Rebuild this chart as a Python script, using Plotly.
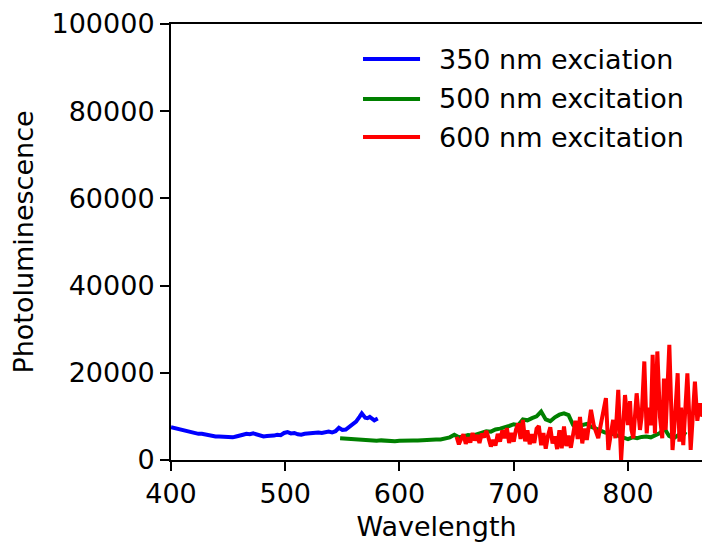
import plotly.graph_objects as go

# ---- data ----
series_names = ["350 nm exciation", "500 nm excitation", "600 nm excitation"]
series_colors = ["#0000ff", "#008000", "#ff0000"]

blue_x = [400, 403, 406, 409, 412, 415, 418, 421, 424, 427, 430, 433, 436, 439, 442, 445, 448,
          451, 454, 457, 460, 463, 466, 469, 472, 475, 478, 481, 484, 487, 490, 493, 496, 499,
          502, 505, 508, 511, 514, 517, 520, 523, 526, 529, 532, 535, 538, 541, 544, 547, 550,
          553, 556, 559, 562, 565, 567, 570, 572, 574, 576, 578, 581]
blue_y = [7500, 7300, 7100, 6900, 6700, 6400, 6300, 6200, 6000, 6000, 5800, 5700, 5600, 5400,
          5400, 5300, 5200, 5300, 5200, 5400, 5500, 5800, 6000, 5900, 6100, 5900, 5600, 5400,
          5500, 5500, 5600, 5800, 5700, 6200, 6400, 6100, 6200, 5900, 5800, 6000, 6100, 6000,
          6200, 6300, 6200, 6400, 6500, 6300, 6600, 7400, 6900, 7000, 7700, 8200, 8800, 9900,
          10700, 9700, 9600, 9900, 9500, 9100, 9500]

green_x = [548, 552, 556, 560, 564, 568, 572, 576, 580, 584, 588, 592, 596, 600, 604, 608, 612,
           616, 620, 624, 628, 632, 636, 640, 644, 648, 652, 656, 660, 664, 668, 672, 676, 680,
           684, 688, 692, 696, 700, 704, 708, 712, 716, 720, 724, 728, 732, 736, 740, 744, 748,
           752, 756, 760, 764, 768, 772, 776, 780, 784, 788, 792, 796, 800, 804, 808, 812, 816,
           820, 824, 828, 832, 836, 840, 844, 848, 851]
green_y = [5000, 4900, 4900, 4800, 4700, 4600, 4500, 4500, 4400, 4500, 4400, 4400, 4300, 4400,
           4500, 4400, 4500, 4500, 4600, 4500, 4600, 4700, 4700, 4900, 5200, 5800, 5200, 5400,
           5700, 5600, 6000, 6300, 6600, 6500, 7000, 7200, 7400, 7800, 8200, 8000, 9300, 9100,
           9600, 10000, 11100, 9300, 8900, 9800, 10400, 10700, 10300, 8000, 7000, 8000, 8300,
           7600, 7200, 6800, 6300, 6200, 5800, 5600, 5000, 4800, 5200, 5000, 5300, 5400, 5200,
           5800, 6200, 7200, 5500, 5000, 5600, 6400, 5800]

red_x = [650, 652, 654, 656, 658, 660, 662, 664, 666, 668, 670, 672, 674, 676, 678, 680, 682,
         684, 686, 688, 690, 692, 694, 696, 698, 700, 702, 704, 706, 708, 710, 712, 714, 716,
         718, 720, 722, 724, 726, 728, 730, 732, 734, 736, 738, 740, 742, 744, 746, 748, 750,
         752, 754, 756, 758, 760, 762, 764, 767.6, 770, 774, 777, 780.7, 782.8, 785, 787, 789,
         791.5, 794, 797.4, 800, 801.8, 803, 804.7, 807.6, 810.5, 812, 814.3, 816.4, 818, 820,
         821.6, 823.6, 825.7, 828, 830, 831.5, 833, 836.2, 839, 841, 843.5, 845, 846.5, 848.4,
         852, 854.9, 858.6, 860.7, 863, 865, 868]
red_y = [5300, 3600, 4800, 5900, 3700, 5200, 4000, 6200, 4500, 5700, 3900, 6000, 5200, 6700,
         5000, 3100, 4600, 3300, 6000, 4200, 6800, 5000, 7300, 3900, 6200, 4200, 7000, 8400, 4800,
         9200, 4300, 6800, 3600, 5900, 3900, 7200, 7800, 3400, 6200, 2600, 5600, 7500, 3800, 5400,
         2500, 6800, 2700, 7700, 3200, 5600, 2800, 6400, 9000, 4800, 9900, 3800, 7200, 4600, 11500,
         8000, 5000, 9200, 14200, 2300, 6000, 9200, 5000, 16100, 0, 14900, 8000, 13500, 7000,
         5000, 15300, 6900, 10000, 22600, 6100, 12000, 8000, 24100, 6100, 24900, 9900, 5000,
         18700, 6900, 26400, 2300, 9000, 19900, 4200, 12000, 3400, 19900, 2300, 18000, 9000,
         13000, 10000, 12000]

xs = [blue_x, green_x, red_x]
ys = [blue_y, green_y, red_y]

x_range = [400, 864.8]
y_range = [0, 100000]
x_ticks = [400, 500, 600, 700, 800]
y_ticks = [0, 20000, 40000, 60000, 80000, 100000]

FONT = "DejaVu Sans"
FS = 27

fig = go.Figure()
for x, y, name, col in zip(xs, ys, series_names, series_colors):
    fig.add_trace(go.Scatter(x=x, y=y, mode="lines", name=name,
                             line=dict(color=col, width=4), showlegend=False))

# manual legend (matplotlib style)
leg_y = [0.9197, 0.828, 0.7408]
for ly, name, col in zip(leg_y, series_names, series_colors):
    fig.add_shape(type="line", xref="paper", yref="paper", x0=0.3616, x1=0.469, y0=ly, y1=ly,
                  line=dict(color=col, width=4))
    fig.add_annotation(xref="paper", yref="paper", x=0.5014, y=ly, text=name, showarrow=False,
                       xanchor="left", yanchor="middle", font=dict(family=FONT, size=FS, color="black"))

axis_common = dict(showgrid=False, zeroline=False, showline=True, linecolor="black", linewidth=2,
                   ticks="outside", ticklen=9, tickwidth=2, tickcolor="black",
                   tickfont=dict(family=FONT, size=FS, color="black"))

fig.update_xaxes(range=x_range, tickvals=x_ticks, mirror=True,
                 title=dict(text="Wavelength", font=dict(family=FONT, size=FS, color="black"), standoff=10),
                 **axis_common)
fig.update_yaxes(range=y_range, tickvals=y_ticks, tickformat="d",
                 title=dict(text="Photoluminescence", font=dict(family=FONT, size=FS, color="black"), standoff=10),
                 **axis_common)

fig.update_layout(width=702, height=542, margin=dict(l=171, r=0, t=24, b=82),
                  paper_bgcolor="white", plot_bgcolor="white",
                  font=dict(family=FONT, size=FS, color="black"))

fig.write_html("out.html")
